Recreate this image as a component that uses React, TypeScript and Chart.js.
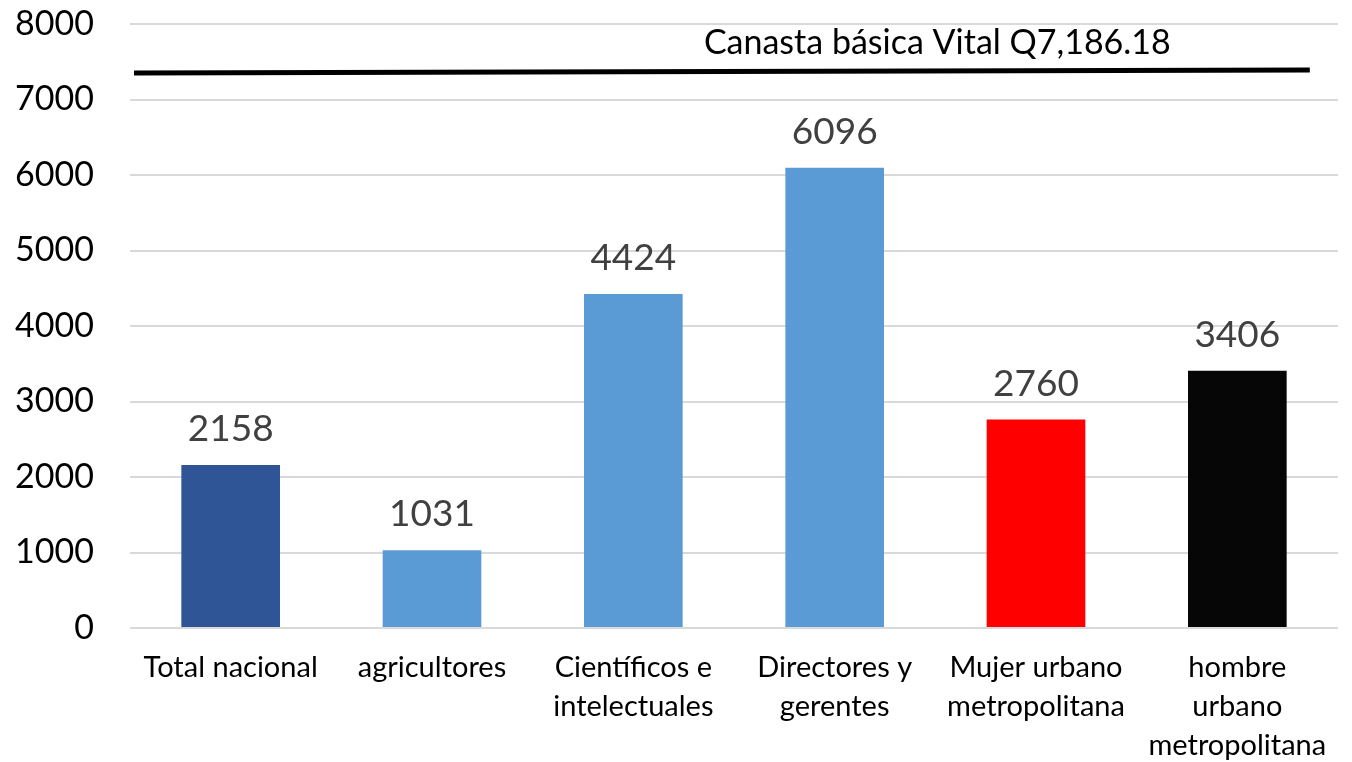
import React, { useEffect, useRef } from "react";
import { Chart, registerables } from "chart.js";

Chart.register(...registerables);

const categories: (string | string[])[] = [
  "Total nacional",
  "agricultores",
  ["Científicos e", "intelectuales"],
  ["Directores y", "gerentes"],
  ["Mujer urbano", "metropolitana"],
  ["hombre", "urbano", "metropolitana"],
];
const values = [2158, 1031, 4424, 6096, 2760, 3406];
const barColors = ["#2F5597", "#5B9BD5", "#5B9BD5", "#5B9BD5", "#FF0000", "#060606"];
const yTicks = [0, 1000, 2000, 3000, 4000, 5000, 6000, 7000, 8000];

const lineLabel = "Canasta básica Vital Q7,186.18";
const lineX = [-0.48, 5.36];
const lineY = [7350, 7390];
const lineLabelX = 3.51;
const lineLabelY = 7750;

const FONT = "Lato, 'Open Sans', sans-serif";

const valueLabels = {
  id: "valueLabels",
  afterDatasetsDraw(chart: any) {
    const ctx = chart.ctx;
    const meta = chart.getDatasetMeta(0);
    ctx.save();
    ctx.font = `37px ${FONT}`;
    ctx.fillStyle = "#404040";
    ctx.textAlign = "center";
    ctx.textBaseline = "middle";
    meta.data.forEach((bar: any, i: number) => {
      ctx.fillText(String(values[i]), bar.x, bar.y - 36);
    });
    const xs = chart.scales.xLine;
    const ys = chart.scales.y;
    ctx.font = `34px ${FONT}`;
    ctx.fillStyle = "#000000";
    ctx.fillText(lineLabel, xs.getPixelForValue(lineLabelX), ys.getPixelForValue(lineLabelY));
    ctx.restore();
  },
};

export default function App() {
  const ref = useRef<HTMLCanvasElement | null>(null);
  useEffect(() => {
    document.body.style.margin = "0";
    const chart = new Chart(ref.current as HTMLCanvasElement, {
      type: "bar",
      data: {
        labels: categories as any,
        datasets: [
          {
            type: "bar",
            data: values,
            backgroundColor: barColors,
            barPercentage: 0.49,
            categoryPercentage: 1,
            grouped: false,
            order: 2,
          } as any,
          {
            type: "line",
            xAxisID: "xLine",
            data: lineX.map((x, i) => ({ x, y: lineY[i] })),
            borderColor: "#000000",
            borderWidth: 5,
            pointRadius: 0,
            fill: false,
            order: 1,
          } as any,
        ],
      },
      options: {
        animation: false,
        responsive: false,
        maintainAspectRatio: false,
        layout: { padding: { top: 24, right: 14, left: 0, bottom: 0 } },
        plugins: {
          legend: { display: false },
          tooltip: { enabled: false },
        },
        scales: {
          x: {
            type: "category",
            grid: { display: false, drawTicks: false },
            border: { display: false },
            ticks: {
              color: "#000000",
              font: { family: FONT, size: 29, lineHeight: 1.34 },
              padding: 20,
              maxRotation: 0,
              autoSkip: false,
            },
            afterFit(scale: any) {
              scale.height = 134;
              scale.paddingTop = 0;
              scale.paddingBottom = 0;
            },
          },
          xLine: {
            type: "linear",
            display: false,
            offset: false,
            min: -0.5,
            max: 5.5,
          },
          y: {
            min: 0,
            max: 8000,
            afterBuildTicks(scale: any) {
              scale.ticks = yTicks.map((v) => ({ value: v }));
            },
            grid: { color: "#D9D9D9", lineWidth: 2, drawTicks: false },
            border: { display: false },
            ticks: {
              color: "#000000",
              font: { family: FONT, size: 34 },
              padding: 36,
              callback: (v: any) => String(v),
            },
            afterFit(scale: any) {
              scale.width = 130;
              scale.paddingTop = 0;
              scale.paddingBottom = 0;
            },
          },
        },
      } as any,
      plugins: [valueLabels],
    });
    return () => chart.destroy();
  }, []);
  return <canvas ref={ref} width={1352} height={762} style={{ display: "block" }} />;
}
